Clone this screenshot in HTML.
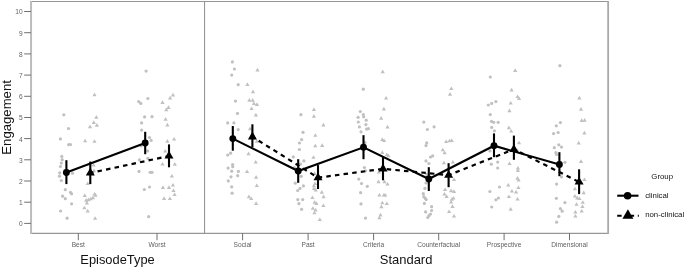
<!DOCTYPE html>
<html><head><meta charset="utf-8"><title>Engagement plot</title>
<style>html,body{margin:0;padding:0;background:#fff}body{width:685px;height:268px;overflow:hidden}svg text{font-family:"Liberation Sans",sans-serif}</style>
</head><body>
<svg width="685" height="268" viewBox="0 0 685 268" style="display:block">
<rect width="685" height="268" fill="#fff"/>
<circle cx="63.8" cy="114.8" r="1.6" fill="#c0c0c0"/>
<circle cx="68.5" cy="128.5" r="1.6" fill="#c0c0c0"/>
<circle cx="60.4" cy="138.9" r="1.6" fill="#c0c0c0"/>
<circle cx="68.7" cy="144.7" r="1.6" fill="#c0c0c0"/>
<circle cx="70.5" cy="144.5" r="1.6" fill="#c0c0c0"/>
<circle cx="61.8" cy="156.4" r="1.6" fill="#c0c0c0"/>
<circle cx="62.2" cy="159.7" r="1.6" fill="#c0c0c0"/>
<circle cx="61.3" cy="163.1" r="1.6" fill="#c0c0c0"/>
<circle cx="60.4" cy="166.5" r="1.6" fill="#c0c0c0"/>
<circle cx="59.7" cy="172.8" r="1.6" fill="#c0c0c0"/>
<circle cx="72.5" cy="173.2" r="1.6" fill="#c0c0c0"/>
<circle cx="59.5" cy="176.2" r="1.6" fill="#c0c0c0"/>
<circle cx="61.3" cy="180.5" r="1.6" fill="#c0c0c0"/>
<circle cx="65.3" cy="189.7" r="1.6" fill="#c0c0c0"/>
<circle cx="70.5" cy="192.4" r="1.6" fill="#c0c0c0"/>
<circle cx="71.6" cy="193.8" r="1.6" fill="#c0c0c0"/>
<circle cx="62.6" cy="196.2" r="1.6" fill="#c0c0c0"/>
<circle cx="65.3" cy="198.7" r="1.6" fill="#c0c0c0"/>
<circle cx="71.6" cy="203.8" r="1.6" fill="#c0c0c0"/>
<circle cx="60.6" cy="211.0" r="1.6" fill="#c0c0c0"/>
<circle cx="67.1" cy="218.2" r="1.6" fill="#c0c0c0"/>
<circle cx="146.1" cy="71.1" r="1.6" fill="#c0c0c0"/>
<circle cx="147.9" cy="98.5" r="1.6" fill="#c0c0c0"/>
<circle cx="138.7" cy="101.6" r="1.6" fill="#c0c0c0"/>
<circle cx="140.8" cy="103.4" r="1.6" fill="#c0c0c0"/>
<circle cx="144.6" cy="116.9" r="1.6" fill="#c0c0c0"/>
<circle cx="152.0" cy="116.7" r="1.6" fill="#c0c0c0"/>
<circle cx="141.6" cy="122.9" r="1.6" fill="#c0c0c0"/>
<circle cx="141.6" cy="130.1" r="1.6" fill="#c0c0c0"/>
<circle cx="149.5" cy="137.5" r="1.6" fill="#c0c0c0"/>
<circle cx="151.1" cy="140.4" r="1.6" fill="#c0c0c0"/>
<circle cx="141.2" cy="145.8" r="1.6" fill="#c0c0c0"/>
<circle cx="147.7" cy="150.9" r="1.6" fill="#c0c0c0"/>
<circle cx="139.4" cy="159.9" r="1.6" fill="#c0c0c0"/>
<circle cx="147.9" cy="158.3" r="1.6" fill="#c0c0c0"/>
<circle cx="139.0" cy="171.4" r="1.6" fill="#c0c0c0"/>
<circle cx="150.2" cy="172.3" r="1.6" fill="#c0c0c0"/>
<circle cx="152.0" cy="172.3" r="1.6" fill="#c0c0c0"/>
<circle cx="149.5" cy="187.0" r="1.6" fill="#c0c0c0"/>
<circle cx="144.3" cy="189.5" r="1.6" fill="#c0c0c0"/>
<circle cx="148.7" cy="216.7" r="1.6" fill="#c0c0c0"/>
<circle cx="232.4" cy="61.9" r="1.6" fill="#c0c0c0"/>
<circle cx="234.4" cy="69.0" r="1.6" fill="#c0c0c0"/>
<circle cx="231.7" cy="75.1" r="1.6" fill="#c0c0c0"/>
<circle cx="238.2" cy="84.7" r="1.6" fill="#c0c0c0"/>
<circle cx="235.5" cy="101.1" r="1.6" fill="#c0c0c0"/>
<circle cx="237.5" cy="113.4" r="1.6" fill="#c0c0c0"/>
<circle cx="227.7" cy="122.9" r="1.6" fill="#c0c0c0"/>
<circle cx="233.9" cy="122.9" r="1.6" fill="#c0c0c0"/>
<circle cx="238.2" cy="129.6" r="1.6" fill="#c0c0c0"/>
<circle cx="230.6" cy="153.2" r="1.6" fill="#c0c0c0"/>
<circle cx="227.7" cy="155.0" r="1.6" fill="#c0c0c0"/>
<circle cx="232.6" cy="164.5" r="1.6" fill="#c0c0c0"/>
<circle cx="232.8" cy="166.7" r="1.6" fill="#c0c0c0"/>
<circle cx="228.1" cy="168.1" r="1.6" fill="#c0c0c0"/>
<circle cx="231.7" cy="171.2" r="1.6" fill="#c0c0c0"/>
<circle cx="238.4" cy="171.4" r="1.6" fill="#c0c0c0"/>
<circle cx="237.7" cy="175.7" r="1.6" fill="#c0c0c0"/>
<circle cx="231.0" cy="176.8" r="1.6" fill="#c0c0c0"/>
<circle cx="228.3" cy="180.9" r="1.6" fill="#c0c0c0"/>
<circle cx="231.7" cy="186.9" r="1.6" fill="#c0c0c0"/>
<circle cx="232.1" cy="193.2" r="1.6" fill="#c0c0c0"/>
<circle cx="300.9" cy="114.7" r="1.6" fill="#c0c0c0"/>
<circle cx="303.0" cy="132.3" r="1.6" fill="#c0c0c0"/>
<circle cx="301.6" cy="139.6" r="1.6" fill="#c0c0c0"/>
<circle cx="299.4" cy="143.0" r="1.6" fill="#c0c0c0"/>
<circle cx="299.4" cy="149.5" r="1.6" fill="#c0c0c0"/>
<circle cx="293.3" cy="156.9" r="1.6" fill="#c0c0c0"/>
<circle cx="303.9" cy="160.9" r="1.6" fill="#c0c0c0"/>
<circle cx="300.5" cy="164.1" r="1.6" fill="#c0c0c0"/>
<circle cx="294.4" cy="167.6" r="1.6" fill="#c0c0c0"/>
<circle cx="301.2" cy="176.3" r="1.6" fill="#c0c0c0"/>
<circle cx="295.3" cy="183.2" r="1.6" fill="#c0c0c0"/>
<circle cx="303.4" cy="185.9" r="1.6" fill="#c0c0c0"/>
<circle cx="300.0" cy="188.4" r="1.6" fill="#c0c0c0"/>
<circle cx="297.7" cy="190.5" r="1.6" fill="#c0c0c0"/>
<circle cx="297.8" cy="199.6" r="1.6" fill="#c0c0c0"/>
<circle cx="302.7" cy="199.6" r="1.6" fill="#c0c0c0"/>
<circle cx="298.9" cy="203.7" r="1.6" fill="#c0c0c0"/>
<circle cx="301.6" cy="209.3" r="1.6" fill="#c0c0c0"/>
<circle cx="363.3" cy="89.2" r="1.6" fill="#c0c0c0"/>
<circle cx="360.3" cy="111.5" r="1.6" fill="#c0c0c0"/>
<circle cx="363.3" cy="114.6" r="1.6" fill="#c0c0c0"/>
<circle cx="358.1" cy="117.3" r="1.6" fill="#c0c0c0"/>
<circle cx="363.7" cy="116.8" r="1.6" fill="#c0c0c0"/>
<circle cx="366.2" cy="120.2" r="1.6" fill="#c0c0c0"/>
<circle cx="358.3" cy="122.0" r="1.6" fill="#c0c0c0"/>
<circle cx="365.9" cy="124.6" r="1.6" fill="#c0c0c0"/>
<circle cx="359.4" cy="126.9" r="1.6" fill="#c0c0c0"/>
<circle cx="366.6" cy="129.1" r="1.6" fill="#c0c0c0"/>
<circle cx="368.4" cy="128.7" r="1.6" fill="#c0c0c0"/>
<circle cx="361.0" cy="131.8" r="1.6" fill="#c0c0c0"/>
<circle cx="365.0" cy="142.6" r="1.6" fill="#c0c0c0"/>
<circle cx="364.4" cy="167.5" r="1.6" fill="#c0c0c0"/>
<circle cx="365.5" cy="170.8" r="1.6" fill="#c0c0c0"/>
<circle cx="358.8" cy="179.1" r="1.6" fill="#c0c0c0"/>
<circle cx="361.5" cy="183.5" r="1.6" fill="#c0c0c0"/>
<circle cx="367.3" cy="186.3" r="1.6" fill="#c0c0c0"/>
<circle cx="360.6" cy="192.7" r="1.6" fill="#c0c0c0"/>
<circle cx="361.0" cy="203.9" r="1.6" fill="#c0c0c0"/>
<circle cx="365.5" cy="218.1" r="1.6" fill="#c0c0c0"/>
<circle cx="423.8" cy="122.1" r="1.6" fill="#c0c0c0"/>
<circle cx="434.1" cy="126.8" r="1.6" fill="#c0c0c0"/>
<circle cx="427.4" cy="129.5" r="1.6" fill="#c0c0c0"/>
<circle cx="426.7" cy="142.9" r="1.6" fill="#c0c0c0"/>
<circle cx="426.0" cy="145.6" r="1.6" fill="#c0c0c0"/>
<circle cx="432.7" cy="155.9" r="1.6" fill="#c0c0c0"/>
<circle cx="430.5" cy="157.0" r="1.6" fill="#c0c0c0"/>
<circle cx="426.0" cy="160.9" r="1.6" fill="#c0c0c0"/>
<circle cx="428.9" cy="163.5" r="1.6" fill="#c0c0c0"/>
<circle cx="426.7" cy="174.3" r="1.6" fill="#c0c0c0"/>
<circle cx="426.0" cy="183.0" r="1.6" fill="#c0c0c0"/>
<circle cx="424.9" cy="188.4" r="1.6" fill="#c0c0c0"/>
<circle cx="423.3" cy="193.7" r="1.6" fill="#c0c0c0"/>
<circle cx="423.8" cy="196.7" r="1.6" fill="#c0c0c0"/>
<circle cx="425.3" cy="198.4" r="1.6" fill="#c0c0c0"/>
<circle cx="426.2" cy="199.6" r="1.6" fill="#c0c0c0"/>
<circle cx="424.4" cy="203.4" r="1.6" fill="#c0c0c0"/>
<circle cx="431.6" cy="206.7" r="1.6" fill="#c0c0c0"/>
<circle cx="431.6" cy="210.5" r="1.6" fill="#c0c0c0"/>
<circle cx="425.6" cy="211.9" r="1.6" fill="#c0c0c0"/>
<circle cx="430.5" cy="214.1" r="1.6" fill="#c0c0c0"/>
<circle cx="428.9" cy="215.7" r="1.6" fill="#c0c0c0"/>
<circle cx="427.8" cy="217.5" r="1.6" fill="#c0c0c0"/>
<circle cx="490.3" cy="77.0" r="1.6" fill="#c0c0c0"/>
<circle cx="495.9" cy="101.6" r="1.6" fill="#c0c0c0"/>
<circle cx="491.7" cy="103.4" r="1.6" fill="#c0c0c0"/>
<circle cx="488.3" cy="105.0" r="1.6" fill="#c0c0c0"/>
<circle cx="490.3" cy="114.6" r="1.6" fill="#c0c0c0"/>
<circle cx="491.5" cy="121.4" r="1.6" fill="#c0c0c0"/>
<circle cx="493.7" cy="122.3" r="1.6" fill="#c0c0c0"/>
<circle cx="498.2" cy="122.3" r="1.6" fill="#c0c0c0"/>
<circle cx="491.7" cy="127.4" r="1.6" fill="#c0c0c0"/>
<circle cx="494.4" cy="130.8" r="1.6" fill="#c0c0c0"/>
<circle cx="489.9" cy="150.9" r="1.6" fill="#c0c0c0"/>
<circle cx="494.4" cy="156.1" r="1.6" fill="#c0c0c0"/>
<circle cx="491.3" cy="164.2" r="1.6" fill="#c0c0c0"/>
<circle cx="497.7" cy="162.1" r="1.6" fill="#c0c0c0"/>
<circle cx="497.7" cy="168.0" r="1.6" fill="#c0c0c0"/>
<circle cx="499.5" cy="187.0" r="1.6" fill="#c0c0c0"/>
<circle cx="489.9" cy="191.5" r="1.6" fill="#c0c0c0"/>
<circle cx="498.4" cy="198.0" r="1.6" fill="#c0c0c0"/>
<circle cx="495.9" cy="199.8" r="1.6" fill="#c0c0c0"/>
<circle cx="491.7" cy="207.0" r="1.6" fill="#c0c0c0"/>
<circle cx="559.9" cy="65.7" r="1.6" fill="#c0c0c0"/>
<circle cx="560.4" cy="122.6" r="1.6" fill="#c0c0c0"/>
<circle cx="556.3" cy="125.8" r="1.6" fill="#c0c0c0"/>
<circle cx="558.1" cy="132.5" r="1.6" fill="#c0c0c0"/>
<circle cx="553.6" cy="133.6" r="1.6" fill="#c0c0c0"/>
<circle cx="558.8" cy="144.8" r="1.6" fill="#c0c0c0"/>
<circle cx="561.5" cy="147.1" r="1.6" fill="#c0c0c0"/>
<circle cx="554.3" cy="147.7" r="1.6" fill="#c0c0c0"/>
<circle cx="555.9" cy="152.7" r="1.6" fill="#c0c0c0"/>
<circle cx="556.6" cy="154.5" r="1.6" fill="#c0c0c0"/>
<circle cx="564.9" cy="162.3" r="1.6" fill="#c0c0c0"/>
<circle cx="561.5" cy="176.9" r="1.6" fill="#c0c0c0"/>
<circle cx="556.6" cy="184.1" r="1.6" fill="#c0c0c0"/>
<circle cx="556.3" cy="198.3" r="1.6" fill="#c0c0c0"/>
<circle cx="564.9" cy="202.6" r="1.6" fill="#c0c0c0"/>
<circle cx="560.4" cy="208.7" r="1.6" fill="#c0c0c0"/>
<circle cx="562.2" cy="211.2" r="1.6" fill="#c0c0c0"/>
<circle cx="558.8" cy="216.4" r="1.6" fill="#c0c0c0"/>
<circle cx="556.6" cy="222.2" r="1.6" fill="#c0c0c0"/>
<path d="M94.5 92.6L96.6 96.3L92.4 96.3Z" fill="#c0c0c0"/>
<path d="M96.3 115.0L98.4 118.7L94.2 118.7Z" fill="#c0c0c0"/>
<path d="M93.8 120.2L95.9 123.9L91.7 123.9Z" fill="#c0c0c0"/>
<path d="M96.9 123.0L99.0 126.7L94.8 126.7Z" fill="#c0c0c0"/>
<path d="M90.0 124.5L92.1 128.2L87.9 128.2Z" fill="#c0c0c0"/>
<path d="M85.1 138.7L87.2 142.3L83.0 142.3Z" fill="#c0c0c0"/>
<path d="M94.5 139.2L96.6 142.8L92.4 142.8Z" fill="#c0c0c0"/>
<path d="M93.6 162.9L95.7 166.5L91.5 166.5Z" fill="#c0c0c0"/>
<path d="M94.0 168.6L96.1 172.2L91.9 172.2Z" fill="#c0c0c0"/>
<path d="M87.7 181.5L89.8 185.1L85.6 185.1Z" fill="#c0c0c0"/>
<path d="M94.6 191.9L96.7 195.5L92.5 195.5Z" fill="#c0c0c0"/>
<path d="M84.8 193.2L86.9 196.9L82.7 196.9Z" fill="#c0c0c0"/>
<path d="M95.5 193.1L97.6 196.7L93.4 196.7Z" fill="#c0c0c0"/>
<path d="M92.9 195.6L95.0 199.2L90.8 199.2Z" fill="#c0c0c0"/>
<path d="M90.7 196.7L92.8 200.3L88.6 200.3Z" fill="#c0c0c0"/>
<path d="M88.4 197.6L90.5 201.2L86.3 201.2Z" fill="#c0c0c0"/>
<path d="M86.2 198.1L88.3 201.7L84.1 201.7Z" fill="#c0c0c0"/>
<path d="M86.9 200.8L89.0 204.4L84.8 204.4Z" fill="#c0c0c0"/>
<path d="M84.4 205.7L86.5 209.3L82.3 209.3Z" fill="#c0c0c0"/>
<path d="M87.7 208.8L89.8 212.4L85.6 212.4Z" fill="#c0c0c0"/>
<path d="M95.1 216.2L97.2 219.8L93.0 219.8Z" fill="#c0c0c0"/>
<path d="M173.0 92.8L175.1 96.5L170.9 96.5Z" fill="#c0c0c0"/>
<path d="M170.1 95.8L172.2 99.4L168.0 99.4Z" fill="#c0c0c0"/>
<path d="M162.5 100.2L164.6 103.9L160.4 103.9Z" fill="#c0c0c0"/>
<path d="M168.5 105.3L170.6 109.0L166.4 109.0Z" fill="#c0c0c0"/>
<path d="M166.3 107.5L168.4 111.2L164.2 111.2Z" fill="#c0c0c0"/>
<path d="M165.6 117.1L167.7 120.8L163.5 120.8Z" fill="#c0c0c0"/>
<path d="M167.4 122.8L169.5 126.4L165.3 126.4Z" fill="#c0c0c0"/>
<path d="M174.1 136.9L176.2 140.5L172.0 140.5Z" fill="#c0c0c0"/>
<path d="M167.4 139.1L169.5 142.7L165.3 142.7Z" fill="#c0c0c0"/>
<path d="M165.2 149.0L167.3 152.6L163.1 152.6Z" fill="#c0c0c0"/>
<path d="M174.8 162.1L176.9 165.7L172.7 165.7Z" fill="#c0c0c0"/>
<path d="M162.5 162.0L164.6 165.6L160.4 165.6Z" fill="#c0c0c0"/>
<path d="M171.9 173.9L174.0 177.5L169.8 177.5Z" fill="#c0c0c0"/>
<path d="M173.0 182.9L175.1 186.5L170.9 186.5Z" fill="#c0c0c0"/>
<path d="M162.9 185.2L165.0 188.9L160.8 188.9Z" fill="#c0c0c0"/>
<path d="M169.0 185.2L171.1 188.9L166.9 188.9Z" fill="#c0c0c0"/>
<path d="M173.5 188.5L175.6 192.1L171.4 192.1Z" fill="#c0c0c0"/>
<path d="M174.6 192.5L176.7 196.1L172.5 196.1Z" fill="#c0c0c0"/>
<path d="M164.1 196.2L166.2 199.9L162.0 199.9Z" fill="#c0c0c0"/>
<path d="M169.9 196.5L172.0 200.1L167.8 200.1Z" fill="#c0c0c0"/>
<path d="M257.5 67.8L259.6 71.4L255.4 71.4Z" fill="#c0c0c0"/>
<path d="M247.4 82.2L249.5 85.9L245.3 85.9Z" fill="#c0c0c0"/>
<path d="M253.0 89.6L255.1 93.3L250.9 93.3Z" fill="#c0c0c0"/>
<path d="M249.4 98.1L251.5 101.8L247.3 101.8Z" fill="#c0c0c0"/>
<path d="M252.7 98.1L254.8 101.8L250.6 101.8Z" fill="#c0c0c0"/>
<path d="M253.9 101.3L256.0 105.0L251.8 105.0Z" fill="#c0c0c0"/>
<path d="M257.0 102.2L259.1 105.9L254.9 105.9Z" fill="#c0c0c0"/>
<path d="M251.6 106.5L253.7 110.1L249.5 110.1Z" fill="#c0c0c0"/>
<path d="M255.9 112.8L258.0 116.4L253.8 116.4Z" fill="#c0c0c0"/>
<path d="M250.0 126.5L252.1 130.2L247.9 130.2Z" fill="#c0c0c0"/>
<path d="M256.8 139.1L258.9 142.7L254.7 142.7Z" fill="#c0c0c0"/>
<path d="M248.5 151.6L250.6 155.2L246.4 155.2Z" fill="#c0c0c0"/>
<path d="M255.7 159.9L257.8 163.5L253.6 163.5Z" fill="#c0c0c0"/>
<path d="M247.1 169.5L249.2 173.1L245.0 173.1Z" fill="#c0c0c0"/>
<path d="M256.1 175.1L258.2 178.7L254.0 178.7Z" fill="#c0c0c0"/>
<path d="M256.8 183.4L258.9 187.0L254.7 187.0Z" fill="#c0c0c0"/>
<path d="M248.9 194.6L251.0 198.2L246.8 198.2Z" fill="#c0c0c0"/>
<path d="M251.2 196.4L253.3 200.0L249.1 200.0Z" fill="#c0c0c0"/>
<path d="M256.1 201.2L258.2 204.9L254.0 204.9Z" fill="#c0c0c0"/>
<path d="M313.9 107.3L316.0 111.0L311.8 111.0Z" fill="#c0c0c0"/>
<path d="M313.9 114.0L316.0 117.7L311.8 117.7Z" fill="#c0c0c0"/>
<path d="M323.4 122.8L325.5 126.5L321.3 126.5Z" fill="#c0c0c0"/>
<path d="M315.3 133.2L317.4 136.8L313.2 136.8Z" fill="#c0c0c0"/>
<path d="M315.3 143.7L317.4 147.3L313.2 147.3Z" fill="#c0c0c0"/>
<path d="M322.2 143.2L324.3 146.9L320.1 146.9Z" fill="#c0c0c0"/>
<path d="M313.5 155.2L315.6 158.8L311.4 158.8Z" fill="#c0c0c0"/>
<path d="M314.6 171.2L316.7 174.9L312.5 174.9Z" fill="#c0c0c0"/>
<path d="M315.0 181.4L317.1 185.0L312.9 185.0Z" fill="#c0c0c0"/>
<path d="M313.9 183.6L316.0 187.2L311.8 187.2Z" fill="#c0c0c0"/>
<path d="M313.9 186.5L316.0 190.1L311.8 190.1Z" fill="#c0c0c0"/>
<path d="M315.7 187.8L317.8 191.4L313.6 191.4Z" fill="#c0c0c0"/>
<path d="M321.8 190.1L323.9 193.7L319.7 193.7Z" fill="#c0c0c0"/>
<path d="M323.6 194.6L325.7 198.2L321.5 198.2Z" fill="#c0c0c0"/>
<path d="M312.4 195.5L314.5 199.1L310.3 199.1Z" fill="#c0c0c0"/>
<path d="M314.6 200.2L316.7 203.8L312.5 203.8Z" fill="#c0c0c0"/>
<path d="M316.4 201.2L318.5 204.9L314.3 204.9Z" fill="#c0c0c0"/>
<path d="M323.4 203.5L325.5 207.1L321.3 207.1Z" fill="#c0c0c0"/>
<path d="M312.8 206.2L314.9 209.8L310.7 209.8Z" fill="#c0c0c0"/>
<path d="M315.5 207.8L317.6 211.4L313.4 211.4Z" fill="#c0c0c0"/>
<path d="M314.4 210.7L316.5 214.3L312.3 214.3Z" fill="#c0c0c0"/>
<path d="M319.8 217.4L321.9 221.0L317.7 221.0Z" fill="#c0c0c0"/>
<path d="M382.7 69.5L384.8 73.2L380.6 73.2Z" fill="#c0c0c0"/>
<path d="M386.1 96.0L388.2 99.6L384.0 99.6Z" fill="#c0c0c0"/>
<path d="M383.9 106.8L386.0 110.5L381.8 110.5Z" fill="#c0c0c0"/>
<path d="M381.2 116.1L383.3 119.8L379.1 119.8Z" fill="#c0c0c0"/>
<path d="M387.5 124.8L389.6 128.5L385.4 128.5Z" fill="#c0c0c0"/>
<path d="M382.3 137.2L384.4 140.9L380.2 140.9Z" fill="#c0c0c0"/>
<path d="M384.1 138.4L386.2 142.0L382.0 142.0Z" fill="#c0c0c0"/>
<path d="M382.3 150.2L384.4 153.9L380.2 153.9Z" fill="#c0c0c0"/>
<path d="M386.8 152.5L388.9 156.1L384.7 156.1Z" fill="#c0c0c0"/>
<path d="M388.4 153.6L390.5 157.2L386.3 157.2Z" fill="#c0c0c0"/>
<path d="M378.9 170.0L381.0 173.6L376.8 173.6Z" fill="#c0c0c0"/>
<path d="M378.5 179.6L380.6 183.2L376.4 183.2Z" fill="#c0c0c0"/>
<path d="M384.5 179.6L386.6 183.2L382.4 183.2Z" fill="#c0c0c0"/>
<path d="M387.5 181.9L389.6 185.5L385.4 185.5Z" fill="#c0c0c0"/>
<path d="M379.4 192.9L381.5 196.5L377.3 196.5Z" fill="#c0c0c0"/>
<path d="M383.9 192.9L386.0 196.5L381.8 196.5Z" fill="#c0c0c0"/>
<path d="M385.2 192.9L387.3 196.5L383.1 196.5Z" fill="#c0c0c0"/>
<path d="M382.3 200.7L384.4 204.3L380.2 204.3Z" fill="#c0c0c0"/>
<path d="M386.8 201.4L388.9 205.0L384.7 205.0Z" fill="#c0c0c0"/>
<path d="M381.4 204.6L383.5 208.2L379.3 208.2Z" fill="#c0c0c0"/>
<path d="M380.5 212.8L382.6 216.4L378.4 216.4Z" fill="#c0c0c0"/>
<path d="M379.4 215.7L381.5 219.3L377.3 219.3Z" fill="#c0c0c0"/>
<path d="M451.3 86.5L453.4 90.1L449.2 90.1Z" fill="#c0c0c0"/>
<path d="M450.0 92.0L452.1 95.7L447.9 95.7Z" fill="#c0c0c0"/>
<path d="M446.2 139.4L448.3 143.0L444.1 143.0Z" fill="#c0c0c0"/>
<path d="M449.5 138.7L451.6 142.3L447.4 142.3Z" fill="#c0c0c0"/>
<path d="M451.8 138.2L453.9 141.9L449.7 141.9Z" fill="#c0c0c0"/>
<path d="M442.8 147.7L444.9 151.3L440.7 151.3Z" fill="#c0c0c0"/>
<path d="M444.6 150.6L446.7 154.2L442.5 154.2Z" fill="#c0c0c0"/>
<path d="M443.9 160.7L446.0 164.3L441.8 164.3Z" fill="#c0c0c0"/>
<path d="M452.9 160.0L455.0 163.6L450.8 163.6Z" fill="#c0c0c0"/>
<path d="M454.0 177.5L456.1 181.1L451.9 181.1Z" fill="#c0c0c0"/>
<path d="M445.1 187.5L447.2 191.1L443.0 191.1Z" fill="#c0c0c0"/>
<path d="M451.1 188.6L453.2 192.2L449.0 192.2Z" fill="#c0c0c0"/>
<path d="M454.0 189.2L456.1 192.9L451.9 192.9Z" fill="#c0c0c0"/>
<path d="M444.4 192.0L446.5 195.6L442.3 195.6Z" fill="#c0c0c0"/>
<path d="M446.6 194.2L448.7 197.9L444.5 197.9Z" fill="#c0c0c0"/>
<path d="M453.4 196.0L455.5 199.6L451.3 199.6Z" fill="#c0c0c0"/>
<path d="M451.8 197.2L453.9 200.8L449.7 200.8Z" fill="#c0c0c0"/>
<path d="M451.1 199.9L453.2 203.5L449.0 203.5Z" fill="#c0c0c0"/>
<path d="M452.5 204.2L454.6 207.9L450.4 207.9Z" fill="#c0c0c0"/>
<path d="M449.1 209.5L451.2 213.1L447.0 213.1Z" fill="#c0c0c0"/>
<path d="M454.0 214.0L456.1 217.6L451.9 217.6Z" fill="#c0c0c0"/>
<path d="M515.2 68.2L517.3 71.9L513.1 71.9Z" fill="#c0c0c0"/>
<path d="M511.6 87.8L513.7 91.4L509.5 91.4Z" fill="#c0c0c0"/>
<path d="M517.5 94.5L519.6 98.1L515.4 98.1Z" fill="#c0c0c0"/>
<path d="M519.0 96.2L521.1 99.9L516.9 99.9Z" fill="#c0c0c0"/>
<path d="M510.7 101.0L512.8 104.6L508.6 104.6Z" fill="#c0c0c0"/>
<path d="M509.4 108.5L511.5 112.2L507.3 112.2Z" fill="#c0c0c0"/>
<path d="M508.9 125.6L511.0 129.3L506.8 129.3Z" fill="#c0c0c0"/>
<path d="M511.2 129.0L513.3 132.6L509.1 132.6Z" fill="#c0c0c0"/>
<path d="M519.0 140.7L521.1 144.3L516.9 144.3Z" fill="#c0c0c0"/>
<path d="M517.5 148.5L519.6 152.1L515.4 152.1Z" fill="#c0c0c0"/>
<path d="M509.5 161.4L511.6 165.0L507.4 165.0Z" fill="#c0c0c0"/>
<path d="M517.9 166.0L520.0 169.6L515.8 169.6Z" fill="#c0c0c0"/>
<path d="M517.9 168.2L520.0 171.9L515.8 171.9Z" fill="#c0c0c0"/>
<path d="M517.5 176.1L519.6 179.7L515.4 179.7Z" fill="#c0c0c0"/>
<path d="M518.6 177.9L520.7 181.5L516.5 181.5Z" fill="#c0c0c0"/>
<path d="M508.3 182.9L510.4 186.5L506.2 186.5Z" fill="#c0c0c0"/>
<path d="M518.4 185.5L520.5 189.1L516.3 189.1Z" fill="#c0c0c0"/>
<path d="M511.9 188.9L514.0 192.5L509.8 192.5Z" fill="#c0c0c0"/>
<path d="M516.1 190.0L518.2 193.6L514.0 193.6Z" fill="#c0c0c0"/>
<path d="M508.9 194.5L511.0 198.1L506.8 198.1Z" fill="#c0c0c0"/>
<path d="M517.5 197.0L519.6 200.6L515.4 200.6Z" fill="#c0c0c0"/>
<path d="M510.7 207.1L512.8 210.7L508.6 210.7Z" fill="#c0c0c0"/>
<path d="M579.4 95.8L581.5 99.4L577.3 99.4Z" fill="#c0c0c0"/>
<path d="M581.0 107.0L583.1 110.7L578.9 110.7Z" fill="#c0c0c0"/>
<path d="M581.7 118.3L583.8 122.0L579.6 122.0Z" fill="#c0c0c0"/>
<path d="M584.6 118.1L586.7 121.8L582.5 121.8Z" fill="#c0c0c0"/>
<path d="M584.4 130.8L586.5 134.4L582.3 134.4Z" fill="#c0c0c0"/>
<path d="M578.7 140.8L580.8 144.4L576.6 144.4Z" fill="#c0c0c0"/>
<path d="M581.0 159.2L583.1 162.9L578.9 162.9Z" fill="#c0c0c0"/>
<path d="M584.4 177.4L586.5 181.0L582.3 181.0Z" fill="#c0c0c0"/>
<path d="M574.9 186.7L577.0 190.3L572.8 190.3Z" fill="#c0c0c0"/>
<path d="M583.7 190.6L585.8 194.2L581.6 194.2Z" fill="#c0c0c0"/>
<path d="M574.9 193.9L577.0 197.5L572.8 197.5Z" fill="#c0c0c0"/>
<path d="M577.2 195.8L579.3 199.4L575.1 199.4Z" fill="#c0c0c0"/>
<path d="M579.4 196.5L581.5 200.1L577.3 200.1Z" fill="#c0c0c0"/>
<path d="M582.8 200.2L584.9 203.8L580.7 203.8Z" fill="#c0c0c0"/>
<path d="M576.5 202.2L578.6 205.8L574.4 205.8Z" fill="#c0c0c0"/>
<path d="M582.5 204.5L584.6 208.1L580.4 208.1Z" fill="#c0c0c0"/>
<path d="M581.7 209.0L583.8 212.6L579.6 212.6Z" fill="#c0c0c0"/>
<path d="M575.4 209.9L577.5 213.5L573.3 213.5Z" fill="#c0c0c0"/>
<path d="M575.4 214.0L577.5 217.6L573.3 217.6Z" fill="#c0c0c0"/>
<path d="M30.95 1.55H608.4 M30.45 233.4H608.9 M204.54999999999998 1.4V233.4" fill="none" stroke="#969696" stroke-width="1.1"/>
<path d="M31.05 1V233.95000000000002" fill="none" stroke="#bcbcbc" stroke-width="2"/>
<path d="M608.15 1V233.95000000000002" fill="none" stroke="#a9a9a9" stroke-width="1.8"/>
<line x1="24.15" x2="30.95" y1="223.4" y2="223.4" stroke="#606060" stroke-width="0.9"/>
<text x="22.65" y="226.3" text-anchor="end" font-size="6.6" fill="#636363">0</text>
<line x1="24.15" x2="30.95" y1="202.2" y2="202.2" stroke="#606060" stroke-width="0.9"/>
<text x="22.65" y="205.1" text-anchor="end" font-size="6.6" fill="#636363">1</text>
<line x1="24.15" x2="30.95" y1="181.0" y2="181.0" stroke="#606060" stroke-width="0.9"/>
<text x="22.65" y="183.9" text-anchor="end" font-size="6.6" fill="#636363">2</text>
<line x1="24.15" x2="30.95" y1="159.8" y2="159.8" stroke="#606060" stroke-width="0.9"/>
<text x="22.65" y="162.7" text-anchor="end" font-size="6.6" fill="#636363">3</text>
<line x1="24.15" x2="30.95" y1="138.6" y2="138.6" stroke="#606060" stroke-width="0.9"/>
<text x="22.65" y="141.5" text-anchor="end" font-size="6.6" fill="#636363">4</text>
<line x1="24.15" x2="30.95" y1="117.5" y2="117.5" stroke="#606060" stroke-width="0.9"/>
<text x="22.65" y="120.4" text-anchor="end" font-size="6.6" fill="#636363">5</text>
<line x1="24.15" x2="30.95" y1="96.3" y2="96.3" stroke="#606060" stroke-width="0.9"/>
<text x="22.65" y="99.2" text-anchor="end" font-size="6.6" fill="#636363">6</text>
<line x1="24.15" x2="30.95" y1="75.1" y2="75.1" stroke="#606060" stroke-width="0.9"/>
<text x="22.65" y="78.0" text-anchor="end" font-size="6.6" fill="#636363">7</text>
<line x1="24.15" x2="30.95" y1="53.9" y2="53.9" stroke="#606060" stroke-width="0.9"/>
<text x="22.65" y="56.8" text-anchor="end" font-size="6.6" fill="#636363">8</text>
<line x1="24.15" x2="30.95" y1="32.7" y2="32.7" stroke="#606060" stroke-width="0.9"/>
<text x="22.65" y="35.6" text-anchor="end" font-size="6.6" fill="#636363">9</text>
<line x1="24.15" x2="30.95" y1="11.5" y2="11.5" stroke="#606060" stroke-width="0.9"/>
<text x="22.65" y="14.4" text-anchor="end" font-size="6.6" fill="#636363">10</text>
<line x1="78.3" x2="78.3" y1="233.4" y2="240.20000000000002" stroke="#606060" stroke-width="0.9"/>
<text x="78.3" y="246.7" text-anchor="middle" font-size="6.6" fill="#606060">Best</text>
<line x1="157.0" x2="157.0" y1="233.4" y2="240.20000000000002" stroke="#606060" stroke-width="0.9"/>
<text x="157.0" y="246.7" text-anchor="middle" font-size="6.6" fill="#606060">Worst</text>
<line x1="242.6" x2="242.6" y1="233.4" y2="240.20000000000002" stroke="#606060" stroke-width="0.9"/>
<text x="242.6" y="246.7" text-anchor="middle" font-size="6.6" fill="#606060">Social</text>
<line x1="308.1" x2="308.1" y1="233.4" y2="240.20000000000002" stroke="#606060" stroke-width="0.9"/>
<text x="308.1" y="246.7" text-anchor="middle" font-size="6.6" fill="#606060">Past</text>
<line x1="373.6" x2="373.6" y1="233.4" y2="240.20000000000002" stroke="#606060" stroke-width="0.9"/>
<text x="373.6" y="246.7" text-anchor="middle" font-size="6.6" fill="#606060">Criteria</text>
<line x1="438.7" x2="438.7" y1="233.4" y2="240.20000000000002" stroke="#606060" stroke-width="0.9"/>
<text x="438.7" y="246.7" text-anchor="middle" font-size="6.6" fill="#606060">Counterfactual</text>
<line x1="504.1" x2="504.1" y1="233.4" y2="240.20000000000002" stroke="#606060" stroke-width="0.9"/>
<text x="504.1" y="246.7" text-anchor="middle" font-size="6.6" fill="#606060">Prospective</text>
<line x1="569.5" x2="569.5" y1="233.4" y2="240.20000000000002" stroke="#606060" stroke-width="0.9"/>
<text x="569.5" y="246.7" text-anchor="middle" font-size="6.6" fill="#606060">Dimensional</text>
<text x="117.5" y="263.7" text-anchor="middle" font-size="13.0" textLength="74.4" lengthAdjust="spacingAndGlyphs" fill="#111">EpisodeType</text>
<text x="406.1" y="263.7" text-anchor="middle" font-size="13.0" textLength="52.6" lengthAdjust="spacingAndGlyphs" fill="#111">Standard</text>
<text transform="translate(10.7,117.4) rotate(-90)" text-anchor="middle" font-size="13.0" textLength="74.6" lengthAdjust="spacingAndGlyphs" fill="#111">Engagement</text>
<path d="M66.4 172.5L145.2 143" fill="none" stroke="#000" stroke-width="2.1"/>
<path d="M90.3 173.0L169 156" fill="none" stroke="#000" stroke-width="2.2" stroke-dasharray="4.5 4.2" stroke-dashoffset="1.3"/>
<line x1="66.4" x2="66.4" y1="160.2" y2="184.1" stroke="#000" stroke-width="2.1"/>
<circle cx="66.4" cy="172.5" r="3.45" fill="#000"/>
<line x1="145.2" x2="145.2" y1="131.8" y2="154.2" stroke="#000" stroke-width="2.1"/>
<circle cx="145.2" cy="143" r="3.45" fill="#000"/>
<line x1="90.3" x2="90.3" y1="161.6" y2="184.1" stroke="#000" stroke-width="2.1"/>
<path d="M90.3 167.8L94.8 175.6L85.8 175.6Z" fill="#000"/>
<line x1="169" x2="169" y1="144.4" y2="167.3" stroke="#000" stroke-width="2.1"/>
<path d="M169.0 150.8L173.5 158.6L164.5 158.6Z" fill="#000"/>
<path d="M232.8 138.6L298.2 171L363.5 147.3L428.8 179L494 145.7L559.4 164.5" fill="none" stroke="#000" stroke-width="2.1"/>
<path d="M252.4 136.8L318 177.7L383 168.8L448.6 175.1L513.9 149.3L579.1 182" fill="none" stroke="#000" stroke-width="2.2" stroke-dasharray="4.5 4.2" stroke-dashoffset="1.3"/>
<line x1="232.8" x2="232.8" y1="126" y2="150.7" stroke="#000" stroke-width="2.1"/>
<circle cx="232.8" cy="138.6" r="3.45" fill="#000"/>
<line x1="298.2" x2="298.2" y1="159.2" y2="182.8" stroke="#000" stroke-width="2.1"/>
<circle cx="298.2" cy="171" r="3.45" fill="#000"/>
<line x1="363.5" x2="363.5" y1="135.2" y2="159.2" stroke="#000" stroke-width="2.1"/>
<circle cx="363.5" cy="147.3" r="3.45" fill="#000"/>
<line x1="428.8" x2="428.8" y1="167.2" y2="191" stroke="#000" stroke-width="2.1"/>
<circle cx="428.8" cy="179" r="3.45" fill="#000"/>
<line x1="494" x2="494" y1="133.4" y2="157.1" stroke="#000" stroke-width="2.1"/>
<circle cx="494" cy="145.7" r="3.45" fill="#000"/>
<line x1="559.4" x2="559.4" y1="152.2" y2="176.2" stroke="#000" stroke-width="2.1"/>
<circle cx="559.4" cy="164.5" r="3.45" fill="#000"/>
<line x1="252.4" x2="252.4" y1="124.3" y2="147.3" stroke="#000" stroke-width="2.1"/>
<path d="M252.4 131.6L256.9 139.4L247.9 139.4Z" fill="#000"/>
<line x1="318" x2="318" y1="165.1" y2="189" stroke="#000" stroke-width="2.1"/>
<path d="M318.0 172.5L322.5 180.3L313.5 180.3Z" fill="#000"/>
<line x1="383" x2="383" y1="156.8" y2="180.3" stroke="#000" stroke-width="2.1"/>
<path d="M383.0 163.6L387.5 171.4L378.5 171.4Z" fill="#000"/>
<line x1="448.6" x2="448.6" y1="163.2" y2="187.2" stroke="#000" stroke-width="2.1"/>
<path d="M448.6 169.9L453.1 177.7L444.1 177.7Z" fill="#000"/>
<line x1="513.9" x2="513.9" y1="135.6" y2="159.8" stroke="#000" stroke-width="2.1"/>
<path d="M513.9 144.1L518.4 151.9L509.4 151.9Z" fill="#000"/>
<line x1="579.1" x2="579.1" y1="169.3" y2="194.1" stroke="#000" stroke-width="2.1"/>
<path d="M579.1 176.8L583.6 184.6L574.6 184.6Z" fill="#000"/>
<text x="662.2" y="178.9" text-anchor="middle" font-size="7.8" fill="#111">Group</text>
<line x1="617.2" x2="638.5" y1="195.7" y2="195.7" stroke="#000" stroke-width="2.1"/>
<circle cx="627.6" cy="195.7" r="3.8" fill="#000"/>
<text x="645.2" y="197.8" font-size="7.8" fill="#111">clinical</text>
<path d="M617.2 215.8H621.6M630 215.8H634.1M637.8 215.8H638.8" stroke="#000" stroke-width="2.1" fill="none"/>
<path d="M627.9 209.2L633.4 218.8L622.4 218.8Z" fill="#000"/>
<text x="645.2" y="217.4" font-size="7.8" fill="#111">non-clinical</text>
</svg>
</body></html>
